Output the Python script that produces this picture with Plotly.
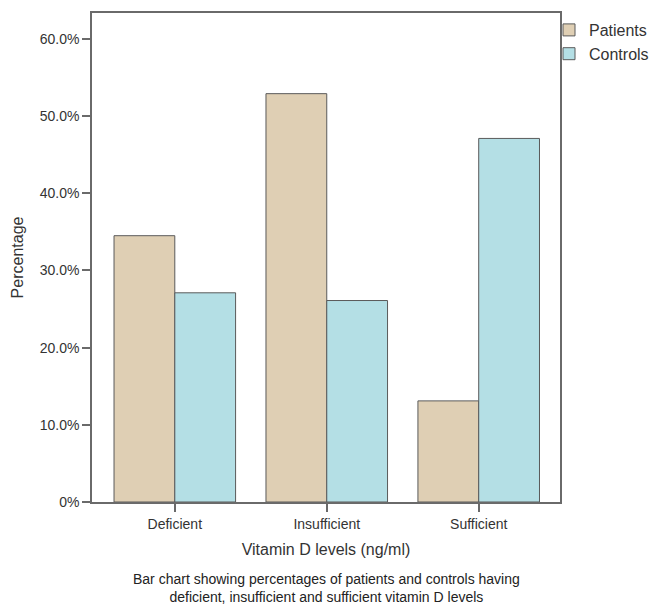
import plotly.graph_objects as go

categories = ["Deficient", "Insufficient", "Sufficient"]
patients = [34.5, 52.9, 13.1]
controls = [27.1, 26.1, 47.1]
y_tickvals = [0, 10, 20, 30, 40, 50, 60]
y_ticktext = ["0%", "10.0%", "20.0%", "30.0%", "40.0%", "50.0%", "60.0%"]

W, H = 649, 606
L, R, T, B = 92, 89, 13, 104
plot_h = H - T - B

fig = go.Figure()
fig.add_trace(go.Bar(name="Patients", x=categories, y=patients,
                     marker=dict(color="#DFCFB4", line=dict(color="#5a5a5a", width=1))))
fig.add_trace(go.Bar(name="Controls", x=categories, y=controls,
                     marker=dict(color="#B4DFE5", line=dict(color="#5a5a5a", width=1))))

font_family = "Liberation Sans, Arial, sans-serif"
fig.update_layout(
    width=W, height=H,
    margin=dict(l=L, r=R, t=T, b=B, autoexpand=False),
    paper_bgcolor="white", plot_bgcolor="white",
    barmode="group", bargap=0.2, bargroupgap=0,
    font=dict(family=font_family, color="#333333"),
    showlegend=True,
    legend=dict(xref="container", yref="container",
                x=549 / W, y=1 - 13 / H, xanchor="left", yanchor="top",
                font=dict(size=16, color="#333333"),
                bgcolor="rgba(0,0,0,0)", tracegroupgap=0, itemwidth=30),
    xaxis=dict(range=[-0.545, 2.535], showline=True, linecolor="#6a6a6a", linewidth=1.5,
               mirror=True, ticks="outside", ticklen=8, tickcolor="#6a6a6a", tickwidth=1.5,
               tickfont=dict(size=14, color="#333333"),
               title=dict(text="Vitamin D levels (ng/ml)", font=dict(size=16, color="#333333"), standoff=13),
               showgrid=False, zeroline=False),
    yaxis=dict(range=[0, 63.35], showline=True, linecolor="#6a6a6a", linewidth=1.5,
               mirror=True, ticks="outside", ticklen=8, tickcolor="#6a6a6a", tickwidth=1.5,
               tickvals=y_tickvals, ticktext=y_ticktext,
               tickfont=dict(size=14, color="#333333"),
               title=dict(text="Percentage", font=dict(size=16, color="#333333"), standoff=12),
               showgrid=False, zeroline=False),
)

fig.add_annotation(
    text="Bar chart showing percentages of patients and controls having<br>deficient, insufficient and sufficient vitamin D levels",
    xref="paper", yref="paper", x=0.5, y=-(588 - (H - B)) / plot_h,
    xanchor="center", yanchor="middle", showarrow=False, align="center",
    font=dict(size=14, color="#222222", family=font_family),
)

fig.write_html("out.html", config={"displayModeBar": False},
               post_script="document.body.style.margin='0';")
